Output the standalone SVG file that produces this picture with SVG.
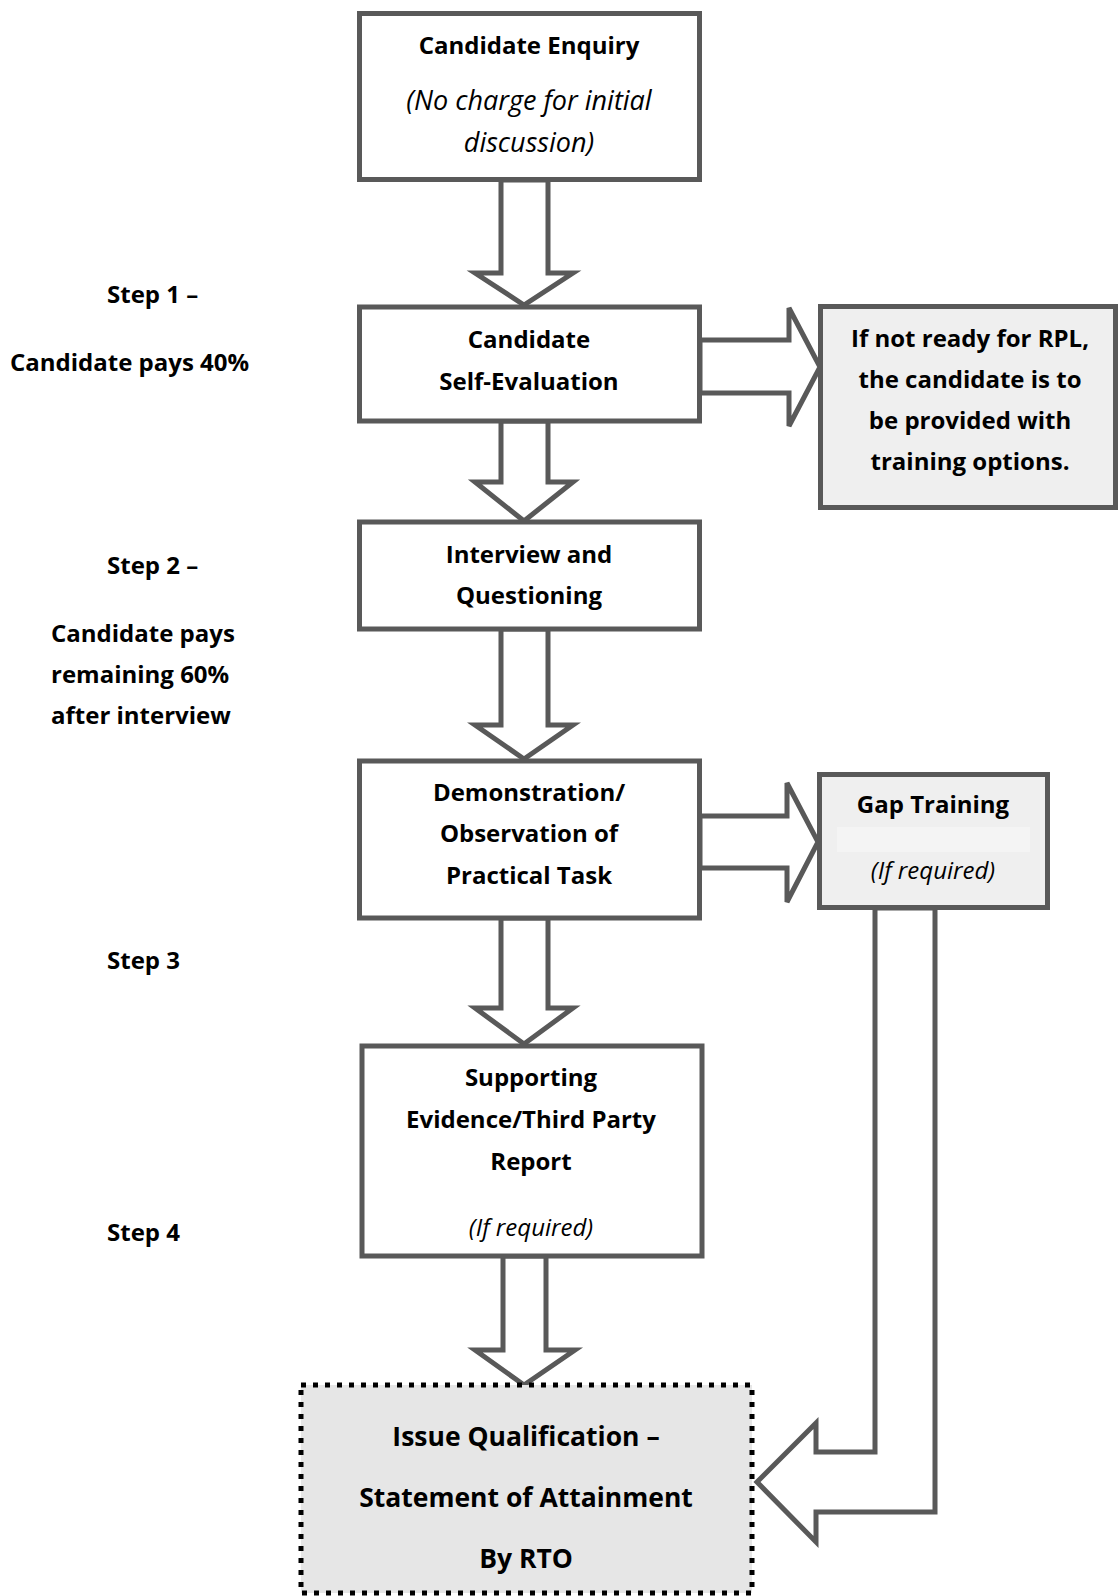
<svg xmlns="http://www.w3.org/2000/svg" width="1120" height="1596" viewBox="0 0 1120 1596">
<style>
.box{fill:#ffffff;stroke:#595959;stroke-width:5}
.grey{fill:#efefef;stroke:#595959;stroke-width:5}
.dot{fill:#e6e6e6;stroke:#000000;stroke-width:5;stroke-dasharray:5 7}
.arr{fill:#ffffff;stroke:#595959;stroke-width:5;stroke-linejoin:miter}
text{font-family:"Open Sans","Liberation Sans",sans-serif;font-size:24px;fill:#000;text-anchor:middle}
.b{font-weight:bold}
.i{font-style:italic}
.l{text-anchor:start}
.big{font-size:26.5px}
.ib{font-size:27px}
</style>
<rect width="1120" height="1596" fill="#ffffff"/>
<g id="connectors">
<polygon class="arr" points="501,180 501,273 475,273 524,305 573,273 548,273 548,180"/>
<polygon class="arr" points="501,421 501,482 475,482 524,521 573,482 548,482 548,421"/>
<polygon class="arr" points="501,629 501,725 475,725 524,759 573,725 548,725 548,629"/>
<polygon class="arr" points="501,918 501,1008 475,1008 524,1044 573,1008 548,1008 548,918"/>
<polygon class="arr" points="503,1256 503,1350 475,1350 524,1385 575,1350 546,1350 546,1256"/>
<polygon class="arr" points="700,340 789,340 789,308 820,367 789,426 789,393 700,393"/>
<polygon class="arr" points="700,816 787,816 787,783 818,842 787,902 787,868 700,868"/>
<polygon class="arr" points="875,908 875,1452 816,1452 816,1423 757,1482 816,1542 816,1512 935,1512 935,908"/>
</g>
<g id="enquiry">
<rect class="box" x="359.5" y="13.5" width="340" height="166"/>
<text class="b" x="529" y="54">Candidate Enquiry</text>
<text class="i ib" x="529" y="110">(No charge for initial</text>
<text class="i ib" x="529" y="152">discussion)</text>
</g>
<g id="self-eval">
<rect class="box" x="359.5" y="307" width="340" height="114"/>
<text class="b" x="529" y="348">Candidate</text>
<text class="b" x="529" y="390">Self-Evaluation</text>
</g>
<g id="not-ready">
<rect class="grey" x="820.5" y="306.5" width="295" height="201"/>
<text class="b" x="970" y="347">If not ready for RPL,</text>
<text class="b" x="970" y="388">the candidate is to</text>
<text class="b" x="970" y="429">be provided with</text>
<text class="b" x="970" y="470">training options.</text>
</g>
<g id="interview">
<rect class="box" x="359.5" y="522" width="340" height="107"/>
<text class="b" x="529" y="563">Interview and</text>
<text class="b" x="529" y="604">Questioning</text>
</g>
<g id="demonstration">
<rect class="box" x="359.5" y="761" width="340" height="157"/>
<text class="b" x="529" y="801">Demonstration/</text>
<text class="b" x="529" y="842">Observation of</text>
<text class="b" x="529" y="884">Practical Task</text>
</g>
<g id="gap-training">
<rect class="grey" x="819.5" y="774.5" width="228" height="133"/>
<rect x="837" y="827" width="193" height="25" fill="#f4f4f4"/>
<text class="b" x="933" y="813">Gap Training</text>
<text class="i" x="933" y="879">(If required)</text>
</g>
<g id="supporting">
<rect class="box" x="362" y="1046" width="340" height="210"/>
<text class="b" x="531" y="1086">Supporting</text>
<text class="b" x="531" y="1128">Evidence/Third Party</text>
<text class="b" x="531" y="1170">Report</text>
<text class="i" x="531" y="1236">(If required)</text>
</g>
<g id="issue">
<rect class="dot" x="301" y="1385" width="451" height="208"/>
<text class="b big" x="526" y="1446">Issue Qualification –</text>
<text class="b big" x="526" y="1507">Statement of Attainment</text>
<text class="b big" x="526" y="1568">By RTO</text>
</g>
<g id="labels">
<text class="b l" x="107" y="303">Step 1 –</text>
<text class="b l" x="10" y="371">Candidate pays 40%</text>
<text class="b l" x="107" y="574">Step 2 –</text>
<text class="b l" x="51" y="642">Candidate pays</text>
<text class="b l" x="51" y="683">remaining 60%</text>
<text class="b l" x="51" y="724">after interview</text>
<text class="b l" x="107" y="969">Step 3</text>
<text class="b l" x="107" y="1241">Step 4</text>
</g>
</svg>
